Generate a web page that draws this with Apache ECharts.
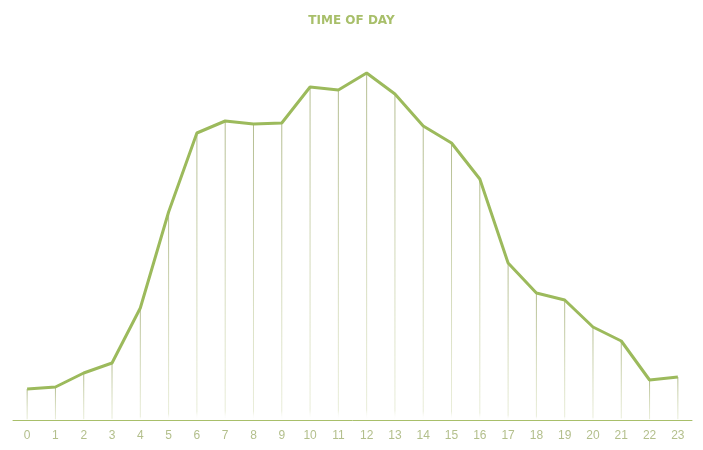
<!DOCTYPE html>
<html>
<head>
<meta charset="utf-8">
<script src="https://cdn.jsdelivr.net/npm/echarts@6/dist/echarts.min.js"></script>
<style>html,body{margin:0;background:#fff}#chart{width:703px;height:450px}</style>
</head>
<body>
<div id="chart"></div>
<script>
const hours = ["0","1","2","3","4","5","6","7","8","9","10","11","12","13","14","15","16","17","18","19","20","21","22","23"];
const values = [31,33,47,57,112,208,287,299,296,297,333,330,347,326,294,277,241,157,127,120,93,79,40,43];

const chart = echarts.init(document.getElementById("chart"));
chart.setOption({
  animation: false,
  title: {
    text: "TIME OF DAY", left: "center", top: 10,
    textStyle: { color: "#a8bf6a", fontSize: 12, fontWeight: "bold", fontFamily: "DejaVu Sans, sans-serif" }
  },
  grid: { left: 13, right: 11, top: 20, bottom: 30 },
  xAxis: {
    type: "category", data: hours, boundaryGap: true,
    axisLine: { lineStyle: { color: "#a8bf6a", width: 1 } },
    axisTick: { show: false },
    axisLabel: { color: "#b3bf8c", fontSize: 12, margin: 10, fontFamily: "Liberation Sans, sans-serif" }
  },
  yAxis: { type: "value", min: 0, max: 400, show: false, splitLine: { show: false } },
  series: [
    {
      type: "bar", data: values, barWidth: 1, silent: true,
      itemStyle: {
        color: new echarts.graphic.LinearGradient(0, 0, 0, 1, [
          { offset: 0, color: "rgba(170,180,130,0.9)" },
          { offset: 0.97, color: "rgba(200,210,160,0.4)" },
          { offset: 1, color: "rgba(255,255,255,0)" }
        ])
      }
    },
    {
      type: "line", data: values, symbol: "none",
      lineStyle: { color: "#9cba5c", width: 3 }
    }
  ]
});
</script>
</body>
</html>
